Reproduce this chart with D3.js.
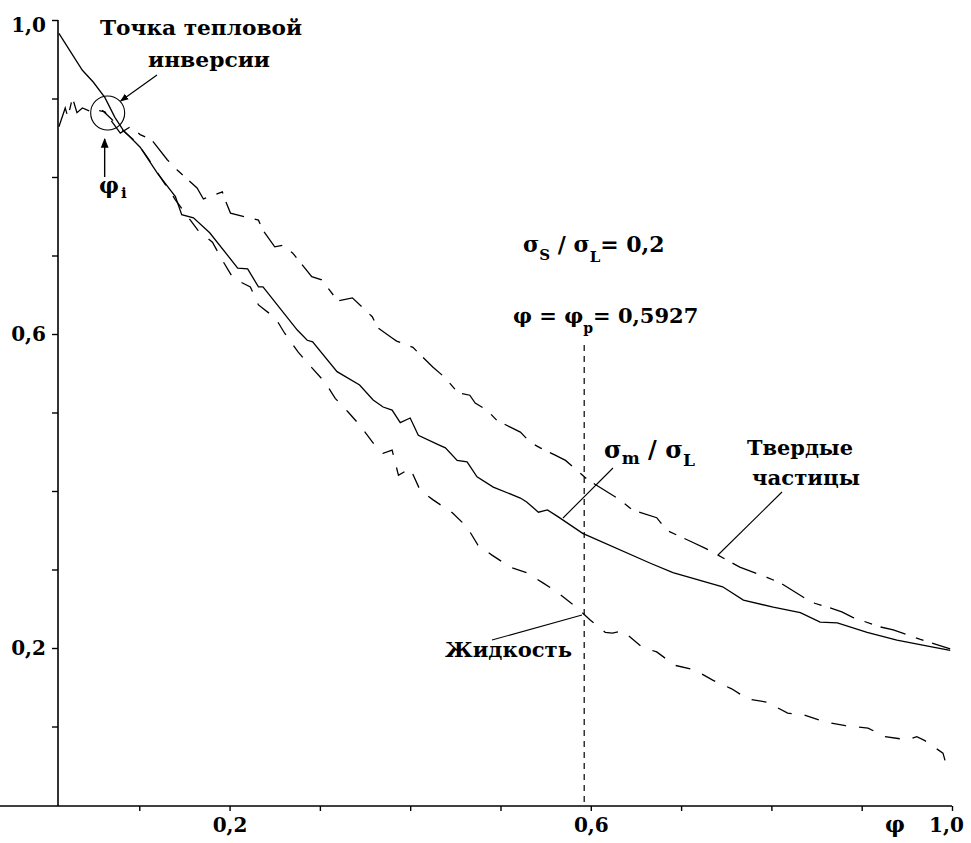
<!DOCTYPE html>
<html>
<head>
<meta charset="utf-8">
<script src="https://cdn.jsdelivr.net/npm/d3@7"></script>
<style>
  html, body { margin: 0; padding: 0; background: #fff; }
  text { font-family: "DejaVu Serif", "Liberation Serif", serif; font-weight: bold; fill: #000; }
</style>
</head>
<body>
<svg id="chart" width="971" height="843"></svg>
<script>
// ---------- data ----------
// σm/σL (solid line)
const mixPhi = [0.011,0.037,0.049,0.062,0.073,0.082,0.101,0.120,0.140,0.147,0.160,0.178,0.209,0.220,0.232,0.237,0.275,0.286,0.292,0.319,0.344,0.359,0.370,0.380,0.389,0.400,0.409,0.431,0.439,0.452,0.463,0.474,0.492,0.522,0.529,0.542,0.552,0.564,0.591,0.666,0.691,0.746,0.769,0.802,0.832,0.854,0.873,0.906,0.939,0.979,0.998];
const mixVal = [0.983,0.936,0.921,0.901,0.876,0.860,0.838,0.805,0.775,0.752,0.748,0.729,0.684,0.683,0.660,0.660,0.605,0.592,0.590,0.552,0.535,0.516,0.507,0.503,0.487,0.493,0.471,0.459,0.455,0.439,0.437,0.418,0.405,0.391,0.386,0.373,0.376,0.367,0.346,0.308,0.296,0.278,0.261,0.252,0.245,0.233,0.232,0.220,0.210,0.201,0.197];
// Твердые частицы (dash-dot line)
const solidPhi = [0.011,0.018,0.021,0.026,0.031,0.037,0.049,0.054,0.062,0.068,0.079,0.090,0.101,0.114,0.131,0.142,0.164,0.171,0.192,0.195,0.201,0.232,0.237,0.250,0.259,0.270,0.291,0.302,0.320,0.336,0.358,0.364,0.380,0.385,0.403,0.425,0.439,0.453,0.466,0.472,0.485,0.496,0.522,0.533,0.544,0.560,0.572,0.597,0.632,0.646,0.673,0.684,0.712,0.727,0.754,0.765,0.795,0.810,0.835,0.848,0.865,0.878,0.890,0.920,0.935,0.965,0.998];
const solidVal = [0.864,0.888,0.876,0.901,0.882,0.888,0.882,0.885,0.883,0.873,0.856,0.864,0.854,0.847,0.822,0.809,0.786,0.772,0.781,0.771,0.754,0.745,0.732,0.711,0.713,0.703,0.673,0.669,0.642,0.646,0.622,0.608,0.595,0.591,0.583,0.558,0.544,0.525,0.522,0.512,0.503,0.490,0.475,0.462,0.455,0.446,0.439,0.414,0.389,0.376,0.366,0.350,0.335,0.327,0.310,0.303,0.290,0.283,0.265,0.257,0.251,0.246,0.239,0.227,0.223,0.211,0.199];
// Жидкость (dashed line)
const liqPhi = [0.059,0.070,0.084,0.098,0.109,0.140,0.165,0.181,0.193,0.204,0.223,0.232,0.251,0.261,0.276,0.288,0.306,0.317,0.331,0.344,0.363,0.370,0.380,0.387,0.400,0.411,0.425,0.447,0.463,0.475,0.491,0.511,0.529,0.547,0.563,0.585,0.599,0.616,0.624,0.635,0.657,0.673,0.693,0.715,0.735,0.756,0.774,0.795,0.818,0.835,0.859,0.882,0.907,0.926,0.951,0.961,0.970,0.990,0.996];
const liqVal = [0.885,0.873,0.857,0.843,0.825,0.771,0.732,0.717,0.692,0.671,0.660,0.637,0.620,0.601,0.577,0.561,0.538,0.518,0.501,0.484,0.455,0.448,0.452,0.420,0.429,0.401,0.389,0.372,0.354,0.331,0.318,0.303,0.296,0.283,0.271,0.251,0.236,0.220,0.219,0.222,0.201,0.195,0.178,0.172,0.159,0.148,0.135,0.131,0.117,0.115,0.106,0.101,0.098,0.087,0.083,0.087,0.082,0.066,0.042];

const xTicks = [0.1,0.2,0.3,0.4,0.5,0.6,0.7,0.8,0.9,1.0];
const yTicks = [0.1,0.2,0.3,0.4,0.5,0.6,0.7,0.8,0.9,1.0];
const xTickLabels = {"0.2":"0,2","0.6":"0,6","1":"1,0"};
const yTickLabels = {"0.2":"0,2","0.6":"0,6","1":"1,0"};
const phiP = 0.5927;
const phiI = 0.065;

// ---------- scales ----------
const svg = d3.select("#chart");
const x = d3.scaleLinear().domain([0.01, 1.0]).range([58, 952]);
const y = d3.scaleLinear().domain([0, 1.0]).range([805, 20]);

// ---------- axes ----------
const xAxis = d3.axisBottom(x).tickValues(xTicks).tickSize(5).tickSizeOuter(0).tickPadding(7)
  .tickFormat(d => xTickLabels[String(+d.toFixed(1))] || "");
const yAxis = d3.axisLeft(y).tickValues(yTicks).tickSize(6).tickSizeOuter(0).tickPadding(6)
  .tickFormat(d => yTickLabels[String(+d.toFixed(1))] || "");

const gx = svg.append("g").attr("transform", "translate(0,806)").call(xAxis);
const gy = svg.append("g").attr("transform", "translate(58,0)").call(yAxis);
[gx, gy].forEach(g => {
  g.select(".domain").attr("stroke", "#000").attr("stroke-width", 1.6);
  g.selectAll(".tick line").attr("stroke", "#000").attr("stroke-width", 1.4);
  g.selectAll(".tick text").style("font-family", "'DejaVu Serif', serif").style("font-weight", "bold")
    .style("font-size", "20px").attr("fill", "#000");
});
gx.selectAll(".tick text").filter(d => Math.abs(d - 1) < 1e-9).attr("dx", -6);
gy.selectAll(".tick text").filter(d => Math.abs(d - 1) < 1e-9).attr("dy", "0.55em");
gy.select(".domain").attr("d", `M0,${y(1.0)}V806`);
gx.select(".domain").attr("d", `M0,0H${x(1.0)}`);

svg.append("text").attr("x", 895).attr("y", 832).attr("text-anchor", "middle")
  .style("font-size", "22px").text("φ");

// ---------- curves ----------
const line = d3.line().x(d => x(d[0])).y(d => y(d[1]));
const mix = mixPhi.map((p, i) => [p, mixVal[i]]);
const solid = solidPhi.map((p, i) => [p, solidVal[i]]);
const liq = liqPhi.map((p, i) => [p, liqVal[i]]);

svg.append("path").datum(mix).attr("d", line).attr("fill", "none")
  .attr("stroke", "#000").attr("stroke-width", 1.3);
svg.append("path").datum(solid).attr("d", line).attr("fill", "none")
  .attr("stroke", "#000").attr("stroke-width", 1.3).attr("stroke-dasharray", "26,11,8,9");
svg.append("path").datum(liq).attr("d", line).attr("fill", "none")
  .attr("stroke", "#000").attr("stroke-width", 1.3).attr("stroke-dasharray", "15,13");

// vertical percolation line
svg.append("line").attr("x1", x(phiP)).attr("x2", x(phiP)).attr("y1", 345).attr("y2", 806)
  .attr("stroke", "#000").attr("stroke-width", 1.2).attr("stroke-dasharray", "6,5");

// ---------- annotations ----------
const circX = x(phiI), circY = 113;
svg.append("circle").attr("cx", circX).attr("cy", circY).attr("r", 17)
  .attr("fill", "none").attr("stroke", "#000").attr("stroke-width", 1.1);

svg.append("defs").append("marker").attr("id", "arr").attr("viewBox", "0 0 10 10")
  .attr("refX", 9).attr("refY", 5).attr("markerWidth", 7).attr("markerHeight", 7)
  .attr("orient", "auto").append("path").attr("d", "M0,1 L10,5 L0,9 Z").attr("fill", "#000");

svg.append("line").attr("x1", 157).attr("y1", 75).attr("x2", circX + 13).attr("y2", circY - 12)
  .attr("stroke", "#000").attr("stroke-width", 1.2).attr("marker-end", "url(#arr)");
svg.append("line").attr("x1", circX - 3).attr("y1", 177).attr("x2", circX - 3).attr("y2", 139)
  .attr("stroke", "#000").attr("stroke-width", 1.4).attr("marker-end", "url(#arr)");

const ptr = (x1, y1, x2, y2) => svg.append("line").attr("x1", x1).attr("y1", y1).attr("x2", x2).attr("y2", y2)
  .attr("stroke", "#000").attr("stroke-width", 1.1);
ptr(563, 518, 613, 468);
ptr(718, 555, 782, 492);
ptr(492, 640, 582, 615);

const txt = (s, xx, yy, size, len) => {
  const t = svg.append("text").attr("x", xx).attr("y", yy).style("font-size", size + "px").text(s);
  if (len) t.attr("textLength", len).attr("lengthAdjust", "spacingAndGlyphs");
  return t;
};
txt("Точка тепловой", 100, 35, 21, 202);
txt("инверсии", 148, 67, 21, 122);
txt("Твердые", 747, 455, 21, 106);
txt("частицы", 752, 485, 21, 108);
txt("Жидкость", 445, 657, 21, 127);

// φi
const phiTxt = svg.append("text").attr("x", 99).attr("y", 193).style("font-size", "22px");
phiTxt.append("tspan").text("φ");
phiTxt.append("tspan").attr("dy", 5).attr("dx", 2).style("font-size", "15px").text("i");

// σS / σL = 0,2
const t1 = svg.append("text").attr("x", 523).attr("y", 252).style("font-size", "22px");
t1.append("tspan").text("σ");
t1.append("tspan").attr("dy", 8).style("font-size", "15px").text("S");
t1.append("tspan").attr("dy", -8).text(" / σ");
t1.append("tspan").attr("dy", 10).style("font-size", "15px").text("L");
t1.append("tspan").attr("dy", -10).text("= 0,2");

// φ = φp = 0,5927
const t2 = svg.append("text").attr("x", 513).attr("y", 323).style("font-size", "21px");
t2.append("tspan").text("φ = φ");
t2.append("tspan").attr("dy", 10).style("font-size", "14px").text("p");
t2.append("tspan").attr("dy", -10).text("= 0,5927");

// σm / σL
const t3 = svg.append("text").attr("x", 604).attr("y", 458).style("font-size", "24px");
t3.append("tspan").text("σ");
t3.append("tspan").attr("dy", 6).style("font-size", "17px").text("m");
t3.append("tspan").attr("dy", -6).text(" / σ");
t3.append("tspan").attr("dy", 8).style("font-size", "17px").text("L");
</script>
</body>
</html>
